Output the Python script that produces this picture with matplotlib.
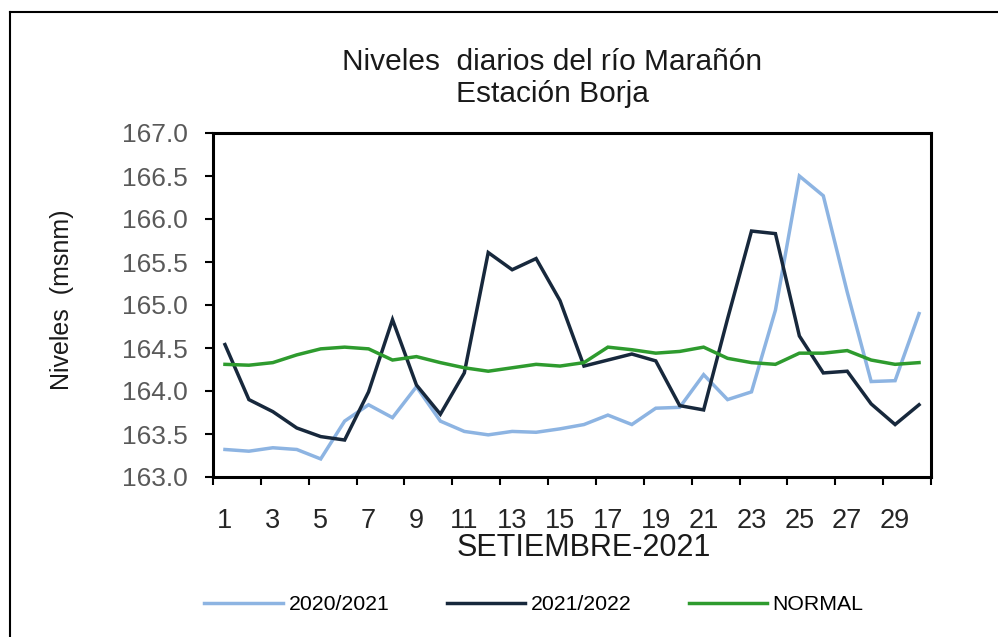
import matplotlib.pyplot as plt
import numpy as np
from matplotlib.lines import Line2D

plt.rcParams['font.family'] = ['Liberation Sans', 'DejaVu Sans']

# daily levels, september 2021 (msnm)
days = list(range(1, 31))
s2020 = [163.32, 163.30, 163.34, 163.32, 163.21, 163.65, 163.84, 163.69, 164.05, 163.65,
         163.53, 163.49, 163.53, 163.52, 163.56, 163.61, 163.72, 163.61, 163.80, 163.81,
         164.19, 163.90, 163.99, 164.94, 166.50, 166.27, 165.15, 164.11, 164.12, 164.90]
s2021 = [164.54, 163.90, 163.76, 163.57, 163.47, 163.43, 163.99, 164.83, 164.07, 163.73,
         164.21, 165.61, 165.41, 165.54, 165.05, 164.29, 164.36, 164.43, 164.35, 163.83,
         163.78, 164.84, 165.86, 165.83, 164.64, 164.21, 164.23, 163.85, 163.61, 163.84]
normal = [164.31, 164.30, 164.33, 164.42, 164.49, 164.51, 164.49, 164.36, 164.40, 164.33,
          164.27, 164.23, 164.27, 164.31, 164.29, 164.33, 164.51, 164.48, 164.44, 164.46,
          164.51, 164.38, 164.33, 164.31, 164.44, 164.44, 164.47, 164.36, 164.31, 164.33]
labels = ['2020/2021', '2021/2022', 'NORMAL']
colors = ['#8db4e2', '#17283c', '#2e9b2e']

fig = plt.figure(figsize=(9.98, 6.37), dpi=100)
ax = fig.add_axes([213/998, 1-477/637, 718/998, 344/637])

for ys, lab, c in zip([s2020, s2021, normal], labels, colors):
    ax.plot(days, ys, color=c, lw=2.5, label=lab, solid_joinstyle='miter')

ax.set_xlim(0.5, 30.5)
ax.set_ylim(163.0, 167.0)
ax.set_yticks(np.arange(163.0, 167.01, 0.5))
ax.set_yticklabels(['%.1f' % v for v in np.arange(163.0, 167.01, 0.5)])
ax.tick_params(axis='y', direction='out', length=6, width=1.5, pad=12,
               labelsize=19, labelcolor='#595959')

# ticks between categories, labels on odd days
ax.set_xticks(np.arange(0.5, 31, 2))
ax.set_xticklabels([])
ax.set_xticks(days[::2], minor=True)
ax.set_xticklabels([str(d) for d in days[::2]], minor=True)
ax.tick_params(axis='x', which='major', direction='out', length=6, width=1.5)
ax.tick_params(axis='x', which='minor', length=0, pad=22, labelsize=19.5, labelcolor='#262626')

for sp in ax.spines.values():
    sp.set_linewidth(2.2)
    sp.set_color('black')

fig.text(552/998, 1-78/637, 'Niveles  diarios del río Marañón\nEstación Borja',
         ha='center', va='center', fontsize=21.5, linespacing=1.15, color='#1a1a1a')
fig.text(584/998, 1-548/637, 'SETIEMBRE-2021', ha='center', va='center',
         fontsize=22, color='#1a1a1a')
fig.text(62/998, 1-300/637, 'Niveles  (msnm)', ha='center', va='center',
         rotation=90, fontsize=18, color='#1a1a1a')

fig.legend(loc='center', bbox_to_anchor=(534/998, 1-605/637), ncol=3, frameon=False,
           fontsize=15.3, handlelength=3.7, handletextpad=0.25, columnspacing=2.7)

# outer frame
fig.add_artist(Line2D([10/998, 1.0], [1-12/637, 1-12/637], transform=fig.transFigure,
                      color='black', lw=1.5))
fig.add_artist(Line2D([10/998, 10/998], [0, 1-12/637], transform=fig.transFigure,
                      color='black', lw=1.5))

fig.savefig('out.png', dpi=100)
